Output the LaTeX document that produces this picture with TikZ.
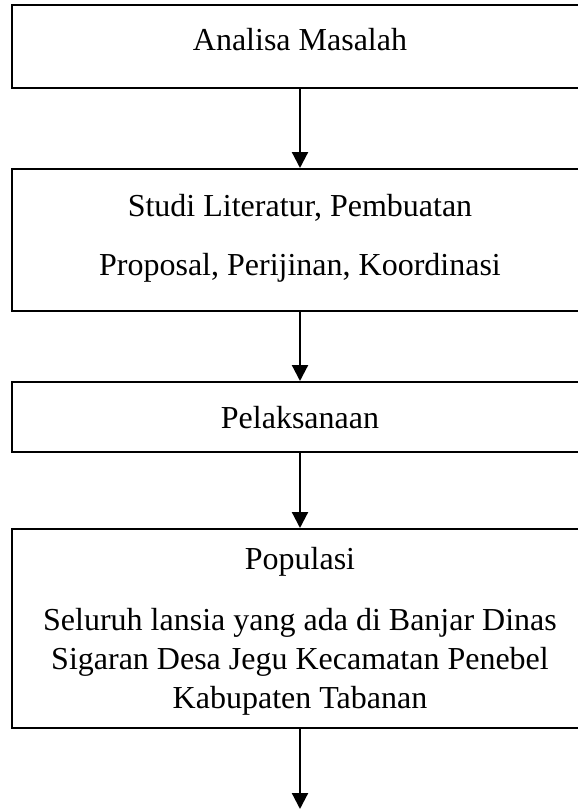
\documentclass[tikz,border=0pt]{standalone}
\usepackage{fontspec}
\setmainfont{Liberation Serif}
\usetikzlibrary{arrows.meta}
\begin{document}
\begin{tikzpicture}[x=1pt,y=-1pt,
  boxstyle/.style={draw=black,line width=1.8pt,minimum width=576pt,inner sep=0pt,anchor=north},
  txt/.style={anchor=base,inner sep=0pt,font=\fontsize{32}{38}\selectfont},
  flow/.style={line width=2.2pt,-{Triangle[width=16pt,length=16pt]}}]
\useasboundingbox (0,0) rectangle (578,809);
\node[boxstyle,minimum height=83pt] (b1) at (300,4) {};
\node[boxstyle,minimum height=142pt] (b2) at (300,168) {};
\node[boxstyle,minimum height=70pt] (b3) at (300,381) {};
\node[boxstyle,minimum height=199pt] (b4) at (300,528) {};
\coordinate (end) at (300,809);
\node[txt] (t1) at (300,50) {Analisa Masalah};
\node[txt] (t2a) at (300,216) {Studi Literatur, Pembuatan};
\node[txt] (t2b) at (300,275) {Proposal, Perijinan, Koordinasi};
\node[txt] (t3) at (300,428) {Pelaksanaan};
\node[txt] (t4a) at (300,569) {Populasi};
\node[txt] (t4b) at (300,630) {Seluruh lansia yang ada di Banjar Dinas};
\node[txt] (t4c) at (300,669) {Sigaran Desa Jegu Kecamatan Penebel};
\node[txt] (t4d) at (300,708) {Kabupaten Tabanan};
\draw[flow] (b1.south) -- (b2.north);
\draw[flow] (b2.south) -- (b3.north);
\draw[flow] (b3.south) -- (b4.north);
\draw[flow] (b4.south) -- (end);
\end{tikzpicture}
\end{document}
